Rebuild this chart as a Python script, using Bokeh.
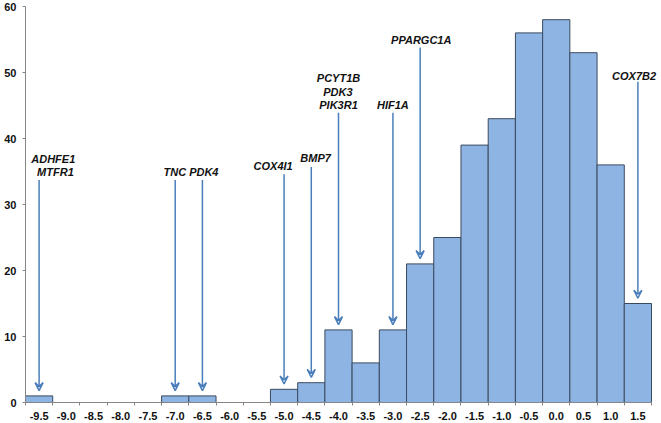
from bokeh.plotting import figure
from bokeh.models import (ColumnDataSource, Range1d, FixedTicker, Arrow, VeeHead,
                          CustomJSTickFormatter, LabelSet)
from bokeh.core.properties import value
from bokeh.embed import file_html
from bokeh.resources import INLINE

# ---- data ----
bins = [-9.5, -9.0, -8.5, -8.0, -7.5, -7.0, -6.5, -6.0, -5.5, -5.0, -4.5, -4.0,
        -3.5, -3.0, -2.5, -2.0, -1.5, -1.0, -0.5, 0.0, 0.5, 1.0, 1.5]
counts = [1, 0, 0, 0, 0, 1, 1, 0, 0, 2, 3, 11, 6, 11, 21, 25, 39, 43, 56, 58, 53, 36, 15]
tick_labels = ["%.1f" % b for b in bins]
y_ticks = [0, 10, 20, 30, 40, 50, 60]

# annotated bins (arrows) and gene labels (one label line per entry)
arrow_bins = [-9.5, -7.0, -6.5, -5.0, -4.5, -4.0, -3.0, -2.5, 1.5]
arrow_top = [33.7, 33.7, 33.7, 34.6, 35.7, 43.9, 43.9, 53.8, 48.6]
label_texts = ["ADHFE1", "MTFR1", "TNC PDK4", "COX4I1", "BMP7",
               "PCYT1B", "PDK3", "PIK3R1", "HIF1A", "PPARGC1A", "COX7B2"]
label_x = [-9.24, -9.20, -6.71, -5.20, -4.42, -4.0, -4.01, -4.0, -3.0, -2.48, 1.43]
label_y = [36.9, 34.9, 34.9, 35.8, 37.1, 49.1, 47.1, 45.1, 45.1, 55.0, 49.4]

FONT = "Liberation Sans"
ARROW_COLOR = "#4A7EBB"
AXIS_COLOR = "#868686"
TEXT_COLOR = "#111111"

x_lo, x_hi = bins[0] - 0.25, bins[-1] + 0.25
px_per_unit = 626 / (x_hi - x_lo)
p = figure(width=661, height=423, output_backend="svg", toolbar_location=None,
           x_range=Range1d(x_lo, x_hi + 10 / px_per_unit), y_range=Range1d(0, 60),
           min_border_left=25, min_border_right=0, min_border_top=6, min_border_bottom=21)
p.outline_line_color = None
p.grid.visible = False

src = ColumnDataSource(dict(x=bins, top=counts))
p.vbar(x="x", top="top", bottom=0, width=0.5, source=src,
       fill_color="#8EB4E3", line_color="#3A4A5E", line_width=1)

# arrows
tip = {b: c for b, c in zip(bins, counts)}
asrc = ColumnDataSource(dict(
    xs=arrow_bins, ys=arrow_top, xe=arrow_bins,
    ye=[tip[b] + 0.8 for b in arrow_bins]))
p.add_layout(Arrow(end=VeeHead(size=8, line_color=ARROW_COLOR, line_width=1.5, fill_color=None),
                   x_start="xs", y_start="ys", x_end="xe", y_end="ye", source=asrc,
                   line_color=ARROW_COLOR, line_width=1.5))

lsrc = ColumnDataSource(dict(x=label_x, y=label_y, t=label_texts))
p.add_layout(LabelSet(x="x", y="y", text="t", source=lsrc, text_align="center",
                      text_baseline="middle", text_font=value(FONT),
                      text_font_style="bold italic",
                      text_font_size="11px", text_color=TEXT_COLOR))

# axes
xa = p.xaxis[0]
xa.bounds = (x_lo, x_hi)
xa.ticker = FixedTicker(ticks=bins, minor_ticks=[b - 0.25 for b in bins] + [bins[-1] + 0.25])
xa.formatter = CustomJSTickFormatter(args=dict(labels=tick_labels, bins=bins),
                                     code="const i = bins.indexOf(tick); return i >= 0 ? labels[i] : '';")
xa.major_tick_out = 0
xa.major_tick_in = 0
xa.minor_tick_out = 3
xa.minor_tick_in = 0
xa.major_label_standoff = 6
xa.axis_line_color = AXIS_COLOR
xa.minor_tick_line_color = AXIS_COLOR
xa.major_label_text_font = FONT
xa.major_label_text_font_style = "bold"
xa.major_label_text_font_size = "11px"
xa.major_label_text_color = TEXT_COLOR

ya = p.yaxis[0]
ya.ticker = FixedTicker(ticks=y_ticks)
ya.major_tick_out = 3
ya.major_tick_in = 0
ya.minor_tick_out = 0
ya.minor_tick_in = 0
ya.major_label_standoff = 6
ya.axis_line_color = AXIS_COLOR
ya.major_tick_line_color = AXIS_COLOR
ya.major_label_text_font = FONT
ya.major_label_text_font_style = "bold"
ya.major_label_text_font_size = "11px"
ya.major_label_text_color = TEXT_COLOR

open("out.html", "w").write(file_html(p, INLINE))
